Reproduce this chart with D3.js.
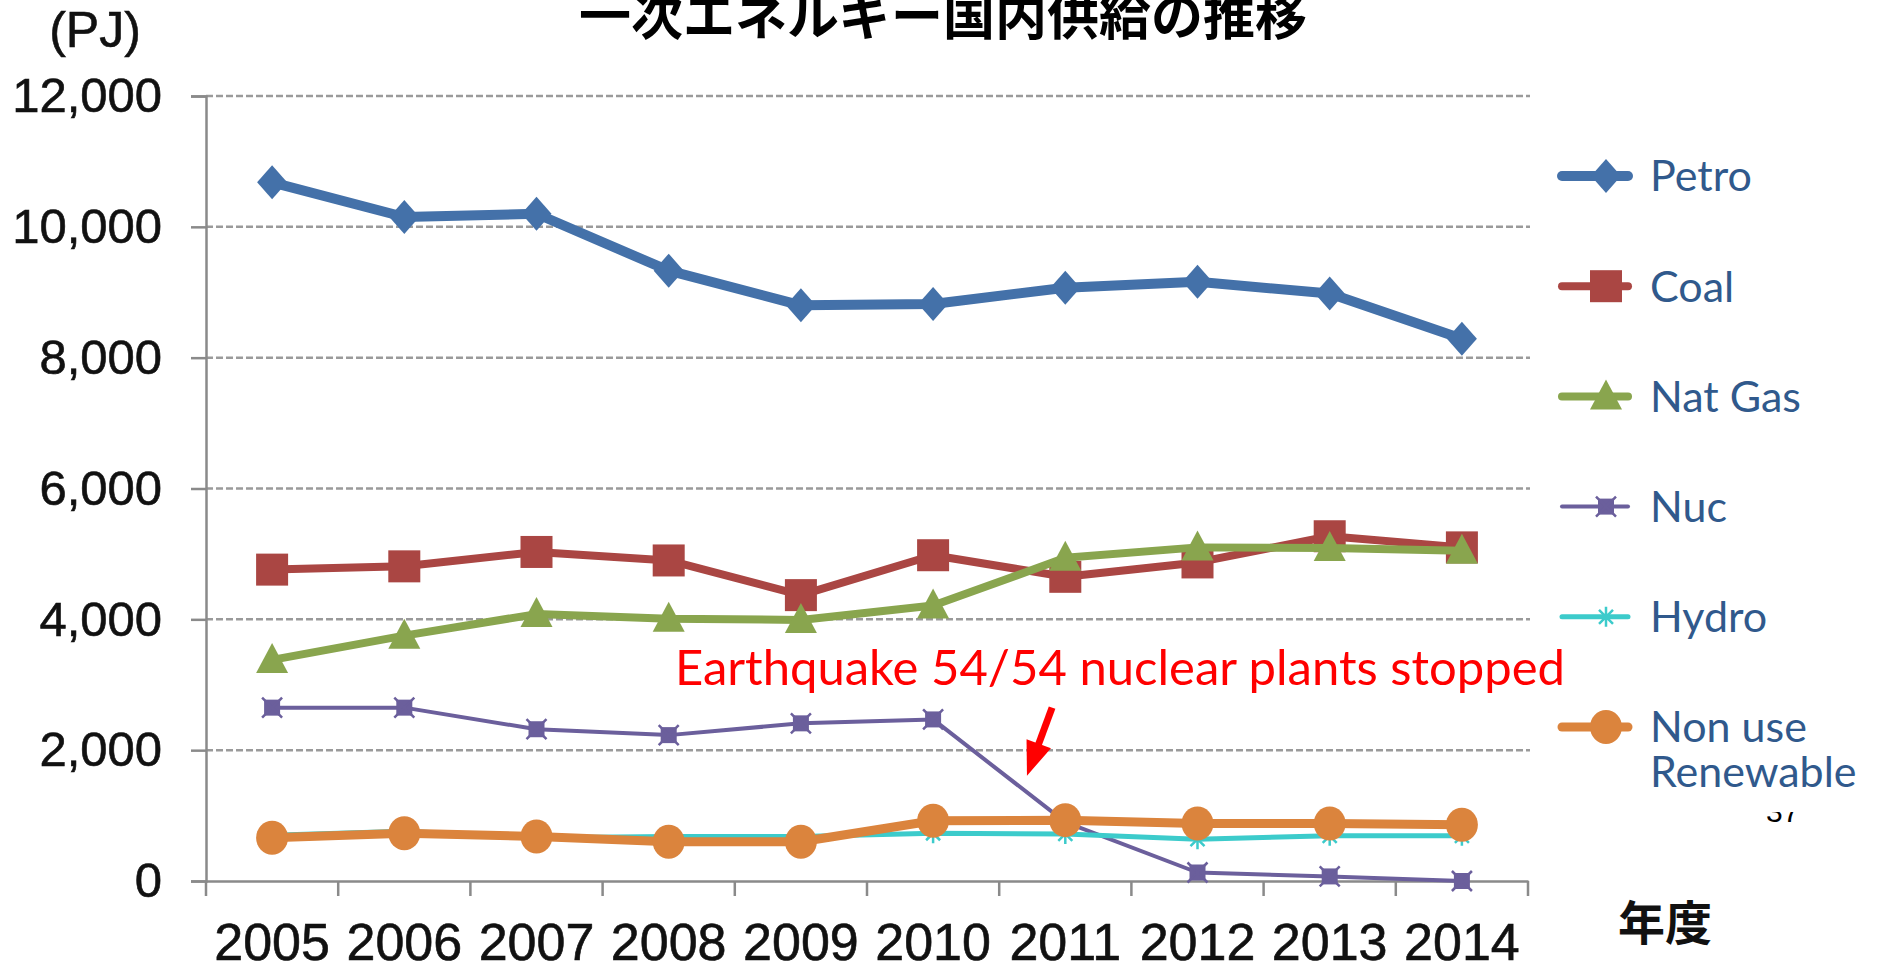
<!DOCTYPE html>
<html>
<head>
<meta charset="utf-8">
<script src="https://cdnjs.cloudflare.com/ajax/libs/d3/7.8.5/d3.min.js"></script>
<style>
    html, body { margin: 0; padding: 0; background: #ffffff; overflow: hidden; }
    svg { display: block; }
</style>
</head>
<body>
<div id="chart"></div>
<script>

//--- Daten -------------------------------------------------------------------------------------------- //

var years = ['2005', '2006', '2007', '2008', '2009', '2010', '2011', '2012', '2013', '2014'];
var yTicks = [0, 2000, 4000, 6000, 8000, 10000, 12000];

var petro  = [10680, 10150, 10200, 9330, 8800, 8820, 9070, 9160, 8980, 8290];
var coal   = [4760, 4810, 5030, 4900, 4370, 4980, 4650, 4870, 5270, 5100];
var natGas = [3380, 3750, 4080, 4010, 3990, 4210, 4940, 5100, 5090, 5050];
var nuc    = [2650, 2650, 2320, 2230, 2410, 2470, 900, 130, 70, 0];
var hydro  = [700, 760, 660, 680, 680, 730, 720, 640, 690, 690];
var nonUse = [660, 730, 680, 600, 600, 920, 930, 880, 880, 860];

var seriesNames = ['Petro', 'Coal', 'Nat Gas', 'Nuc', 'Hydro', 'Non use|Renewable'];

var title = '一次エネルギー国内供給の推移';
var unitLabel = '(PJ)';
var xAxisLabel = '年度';
var note = 'Earthquake 54/54 nuclear plants stopped';
var pageNo = '37';


//--- Konfiguration ------------------------------------------------------------------------------------ //

var App = {
    Width: 1877,
    Height: 966,
    Plot: { left: 206, right: 1528, top: 96, bottom: 881 },
    Styles: [
        { color: '#4471A9', width: 10, marker: 'diamond' },
        { color: '#AA4643', width: 8, marker: 'square' },
        { color: '#89A54E', width: 8, marker: 'triangle' },
        { color: '#6B5F9C', width: 4, marker: 'nucSquare' },
        { color: '#3CCBCB', width: 5, marker: 'star' },
        { color: '#DB843D', width: 9, marker: 'circle' }
    ]
};


//--- Marker zeichnen ---------------------------------------------------------------------------------- //

function drawMarker(g, type, color, cx, cy) {

    var m = g.append('g').attr('transform', 'translate(' + cx + ',' + cy + ')');

    switch (type) {
        case 'diamond':
            m.append('path').attr('d', 'M0,-17L15,0L0,17L-15,0Z').attr('fill', color);
            break;

        case 'square':
            m.append('rect').attr('x', -16).attr('y', -16).attr('width', 32).attr('height', 32).attr('fill', color);
            break;

        case 'triangle':
            m.append('path').attr('d', 'M0,-17L16,13L-16,13Z').attr('fill', color);
            break;

        case 'nucSquare':
            m.append('rect').attr('x', -8).attr('y', -8).attr('width', 16).attr('height', 16).attr('fill', color);
            m.append('path').attr('d', 'M-10,-10L10,10M10,-10L-10,10')
                .attr('stroke', color).attr('stroke-width', 2.5);
            break;

        case 'star':
            m.append('path').attr('d', 'M-9,0L9,0M0,-10L0,10M-7,-7L7,7M7,-7L-7,7')
                .attr('stroke', color).attr('stroke-width', 2.5).attr('fill', 'none');
            break;

        case 'circle':
            m.append('ellipse').attr('rx', 16).attr('ry', 17).attr('fill', color);
            break;
    }
}


//--- Chart ------------------------------------------------------------------------------------------- //

function renderChart() {

    var P = App.Plot;
    var allSeries = [petro, coal, natGas, nuc, hydro, nonUse];

    var svg = d3.select('#chart').append('svg')
        .attr('width', App.Width)
        .attr('height', App.Height)
        .attr('viewBox', '0 0 ' + App.Width + ' ' + App.Height);

    var x = d3.scaleBand().domain(years).range([P.left, P.right]).padding(0);
    var y = d3.scaleLinear().domain([0, 12000]).range([P.bottom, P.top]);
    var cx = function (d, i) { return x(years[i]) + x.bandwidth() / 2; };

    // Gitterlinien
    svg.append('g').selectAll('line')
        .data(yTicks.filter(function (d) { return d > 0; }))
        .enter().append('line')
        .attr('x1', P.left).attr('x2', P.right + 2)
        .attr('y1', function (d) { return y(d); })
        .attr('y2', function (d) { return y(d); })
        .attr('stroke', '#9a9a9a')
        .attr('stroke-width', 2.5)
        .attr('stroke-dasharray', '7,3');

    // Y-Achse
    var yAxis = svg.append('g')
        .attr('transform', 'translate(' + P.left + ',0)')
        .call(d3.axisLeft(y).tickValues(yTicks).tickFormat(d3.format(',')).tickSize(15).tickPadding(29));
    yAxis.select('.domain').attr('stroke', '#8a8a8a').attr('stroke-width', 2.5);
    yAxis.selectAll('.tick line').attr('stroke', '#8a8a8a').attr('stroke-width', 2.5);
    yAxis.selectAll('.tick text')
        .attr('font-family', '"Liberation Sans", Arial, sans-serif')
        .attr('font-size', '49px')
        .attr('fill', '#111')
        .attr('stroke', '#111')
        .attr('stroke-width', 0.6);

    // X-Achse
    var xAxis = svg.append('g')
        .attr('transform', 'translate(0,' + P.bottom + ')')
        .call(d3.axisBottom(x).tickSize(0).tickPadding(0));
    xAxis.select('.domain').attr('stroke', '#8a8a8a').attr('stroke-width', 2.5);
    xAxis.selectAll('.tick text')
        .attr('y', 79).attr('dy', 0)
        .attr('font-family', '"Liberation Sans", Arial, sans-serif')
        .attr('font-size', '52px')
        .attr('fill', '#111')
        .attr('stroke', '#111')
        .attr('stroke-width', 0.6);

    var bounds = years.map(function (d) { return x(d); }).concat([P.right]);
    xAxis.append('g').selectAll('line')
        .data(bounds)
        .enter().append('line')
        .attr('x1', function (d) { return d; })
        .attr('x2', function (d) { return d; })
        .attr('y1', 0).attr('y2', 15)
        .attr('stroke', '#8a8a8a')
        .attr('stroke-width', 2.5);

    // Linien + Marker
    var line = d3.line()
        .x(cx)
        .y(function (d) { return y(d); });

    allSeries.forEach(function (values, s) {
        var st = App.Styles[s];
        var g = svg.append('g').attr('class', 'series-' + s);

        g.append('path')
            .datum(values)
            .attr('d', line)
            .attr('fill', 'none')
            .attr('stroke', st.color)
            .attr('stroke-width', st.width)
            .attr('stroke-linejoin', 'round');

        values.forEach(function (v, i) {
            drawMarker(g, st.marker, st.color, cx(v, i), y(v));
        });
    });

    // Titel, Einheit
    svg.append('text')
        .attr('x', 943).attr('y', 35)
        .attr('text-anchor', 'middle')
        .attr('font-family', '"Noto Sans CJK JP", sans-serif')
        .attr('font-weight', 'bold')
        .attr('font-size', '52px')
        .attr('fill', '#000')
        .text(title);

    svg.append('text')
        .attr('x', 95).attr('y', 47)
        .attr('text-anchor', 'middle')
        .attr('font-family', '"Liberation Sans", Arial, sans-serif')
        .attr('font-size', '50px')
        .attr('fill', '#111')
        .attr('stroke', '#111')
        .attr('stroke-width', 0.6)
        .text(unitLabel);

    svg.append('text')
        .attr('x', 1618).attr('y', 940)
        .attr('font-family', '"Noto Sans CJK JP", sans-serif')
        .attr('font-weight', 'bold')
        .attr('font-size', '47px')
        .attr('fill', '#111')
        .text(xAxisLabel);

    // Seitenzahl (halb verdeckt)
    svg.append('clipPath').attr('id', 'pageClip')
        .append('rect').attr('x', 1760).attr('y', 812).attr('width', 60).attr('height', 14);
    svg.append('text')
        .attr('x', 1766).attr('y', 822)
        .attr('clip-path', 'url(#pageClip)')
        .attr('font-family', '"Liberation Sans", Arial, sans-serif')
        .attr('font-size', '30px')
        .attr('fill', '#000')
        .text(pageNo);

    // Anmerkung + Pfeil
    svg.append('text')
        .attr('x', 1565).attr('y', 685)
        .attr('text-anchor', 'end')
        .attr('font-family', 'Lato, "Noto Sans", sans-serif')
        .attr('font-size', '49px')
        .attr('fill', '#FF0000')
        .text(note);

    var step = x.step();
    var base = x('2011') + x.bandwidth() / 2;
    var tip = [base - 0.29 * step, y(1610)];
    var tail = [base - 0.10 * step, y(2650)];
    var dx = tip[0] - tail[0], dy = tip[1] - tail[1];
    var len = Math.sqrt(dx * dx + dy * dy);
    var ux = dx / len, uy = dy / len;
    var headLen = 34, headW = 13;
    var hb = [tip[0] - ux * headLen, tip[1] - uy * headLen];

    svg.append('line')
        .attr('x1', tail[0]).attr('y1', tail[1])
        .attr('x2', hb[0] + ux * 2).attr('y2', hb[1] + uy * 2)
        .attr('stroke', '#FF0000')
        .attr('stroke-width', 7);

    svg.append('path')
        .attr('d', 'M' + tip[0] + ',' + tip[1] +
            'L' + (hb[0] - uy * headW) + ',' + (hb[1] + ux * headW) +
            'L' + (hb[0] + uy * headW) + ',' + (hb[1] - ux * headW) + 'Z')
        .attr('fill', '#FF0000');

    // Legende
    var legend = svg.append('g').attr('class', 'legend');

    seriesNames.forEach(function (name, s) {
        var st = App.Styles[s];
        var ly = 176 + s * 110.2;

        legend.append('line')
            .attr('x1', 1562).attr('x2', 1628)
            .attr('y1', ly).attr('y2', ly)
            .attr('stroke', st.color)
            .attr('stroke-width', st.width)
            .attr('stroke-linecap', 'round');

        drawMarker(legend, st.marker, st.color, 1606, ly);

        var parts = name.split('|');
        parts.forEach(function (p, k) {
            legend.append('text')
                .attr('x', 1650)
                .attr('y', ly + k * 45)
                .attr('dy', '0.36em')
                .attr('font-family', 'Lato, "Noto Sans", sans-serif')
                .attr('font-size', '43px')
                .attr('fill', '#30598C')
                .text(p);
        });
    });
}


//--- Start ------------------------------------------------------------------------------------------- //

renderChart();

</script>
</body>
</html>
